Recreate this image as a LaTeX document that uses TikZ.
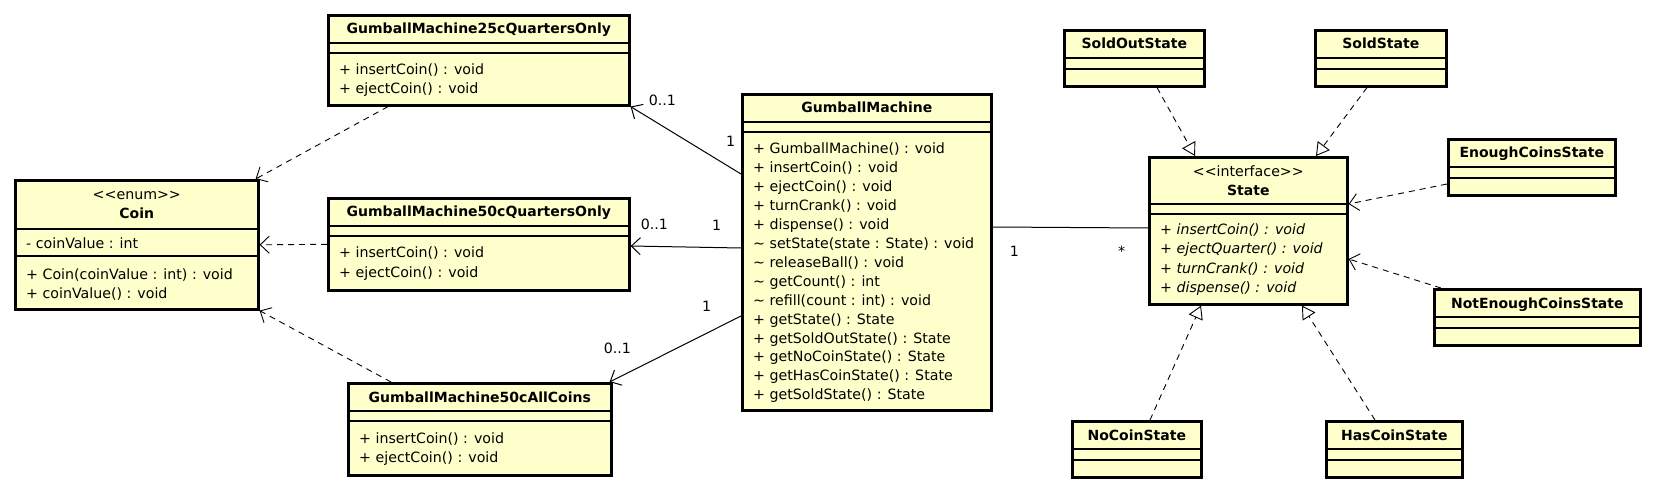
\documentclass[tikz,border=0pt]{standalone}
\usepackage{fontspec}
\setmainfont{DejaVu Sans}
\usepackage{tikz}
\usetikzlibrary{positioning, calc, arrows.meta}

\definecolor{classfill}{RGB}{255,255,204}

\tikzset{
  classbox/.style = {draw, rectangle, line width=2.6pt, fill=classfill,
    inner sep=0pt, anchor=north west},
  sepline/.style = {line width=1.1pt},
  member/.style = {anchor=base west, inner sep=0pt,
    font=\fontsize{14.2}{19}\selectfont},
  classname/.style = {anchor=base, inner sep=0pt,
    font=\bfseries\fontsize{14}{19}\selectfont},
  stereo/.style = {anchor=base, inner sep=0pt,
    font=\fontsize{14.2}{19}\selectfont},
  mult/.style = {anchor=base west, inner sep=0pt,
    font=\fontsize{14.2}{19}\selectfont},
  depends/.style = {line width=0.9pt, dash pattern=on 6pt off 5pt,
    -{Straight Barb[length=9pt, width=17pt, line width=0.9pt]}},
  realizes/.style = {line width=0.9pt, dash pattern=on 6pt off 5pt,
    -{Triangle[open, length=13pt, width=15pt, line width=0.9pt]}},
  navigates/.style = {line width=1pt,
    -{Straight Barb[length=9pt, width=17pt, line width=1pt]}}
}

\begin{document}
\begin{tikzpicture}[x=1pt, y=-1pt]
  \useasboundingbox (0,0) rectangle (1653,486);

  % --- enum on the far left
  \node [classbox, minimum width=243pt, minimum height=129pt] (coin) at (14,179) {};
  \node [stereo] at ($(coin.north)+(0,21)$) {{<}{<}enum{>}{>}};
  \node [classname] at ($(coin.north)+(0,40)$) {Coin};
  \draw [sepline] ($(coin.north west)+(0,50)$) -- ($(coin.north east)+(0,50)$);
  \draw [sepline] ($(coin.north west)+(0,77)$) -- ($(coin.north east)+(0,77)$);
  \node [member] at ($(coin.north west)+(12,70)$) {- coinValue : int};
  \foreach \m [count=\i from 0] in {+ Coin(coinValue : int) : void, + coinValue() : void}
    \node [member] at ($(coin.north west)+(12,100+19*\i)$) {\m};

  % --- the three machine variants
  \node [classbox, minimum width=301pt, minimum height=90pt] (q25) at (327,14) {};
  \node [classname] at ($(q25.north)+(0,20)$) {GumballMachine25cQuartersOnly};
  \draw [sepline] ($(q25.north west)+(0,29)$) -- ($(q25.north east)+(0,29)$);
  \draw [sepline] ($(q25.north west)+(0,39)$) -- ($(q25.north east)+(0,39)$);
  \foreach \m [count=\i from 0] in {+ insertCoin() : void, + ejectCoin() : void}
    \node [member] at ($(q25.north west)+(12,61+19*\i)$) {\m};

  \node [classbox, minimum width=301pt, minimum height=92pt] (q50) at (327,197) {};
  \node [classname] at ($(q50.north)+(0,20)$) {GumballMachine50cQuartersOnly};
  \draw [sepline] ($(q50.north west)+(0,29)$) -- ($(q50.north east)+(0,29)$);
  \draw [sepline] ($(q50.north west)+(0,39)$) -- ($(q50.north east)+(0,39)$);
  \foreach \m [count=\i from 0] in {+ insertCoin() : void, + ejectCoin() : void}
    \node [member] at ($(q50.north west)+(12,61+19*\i)$) {\m};

  \node [classbox, minimum width=263pt, minimum height=92pt] (all50) at (347,382) {};
  \node [classname] at ($(all50.north)+(0,20)$) {GumballMachine50cAllCoins};
  \draw [sepline] ($(all50.north west)+(0,29)$) -- ($(all50.north east)+(0,29)$);
  \draw [sepline] ($(all50.north west)+(0,39)$) -- ($(all50.north east)+(0,39)$);
  \foreach \m [count=\i from 0] in {+ insertCoin() : void, + ejectCoin() : void}
    \node [member] at ($(all50.north west)+(12,61+19*\i)$) {\m};

  % --- context class
  \node [classbox, minimum width=249pt, minimum height=316pt] (gm) at (741,93) {};
  \node [classname] at ($(gm.north)+(0,20)$) {GumballMachine};
  \draw [sepline] ($(gm.north west)+(0,29)$) -- ($(gm.north east)+(0,29)$);
  \draw [sepline] ($(gm.north west)+(0,39)$) -- ($(gm.north east)+(0,39)$);
  \foreach \m [count=\i from 0] in {+ GumballMachine() : void, + insertCoin() : void,
      + ejectCoin() : void, + turnCrank() : void, + dispense() : void,
      \textasciitilde\ setState(state : State) : void, \textasciitilde\ releaseBall() : void,
      \textasciitilde\ getCount() : int, \textasciitilde\ refill(count : int) : void,
      + getState() : State, + getSoldOutState() : State, + getNoCoinState() : State,
      + getHasCoinState() : State, + getSoldState() : State}
    \node [member] at ($(gm.north west)+(12,61+18.9*\i)$) {\m};

  % --- state interface
  \node [classbox, minimum width=198pt, minimum height=147pt] (state) at (1148,156) {};
  \node [stereo] at ($(state.north)+(0,21)$) {{<}{<}interface{>}{>}};
  \node [classname] at ($(state.north)+(0,40)$) {State};
  \draw [sepline] ($(state.north west)+(0,48)$) -- ($(state.north east)+(0,48)$);
  \draw [sepline] ($(state.north west)+(0,58)$) -- ($(state.north east)+(0,58)$);
  \foreach \m [count=\i from 0] in {+ insertCoin() : void, + ejectQuarter() : void,
      + turnCrank() : void, + dispense() : void}
    \node [member, font=\itshape\fontsize{14.2}{19}\selectfont]
      at ($(state.north west)+(12,79+19*\i)$) {\m};

  % --- concrete states
  \node [classbox, minimum width=140pt, minimum height=56pt] (soldout) at (1063,29) {};
  \node [classname] at ($(soldout.north)+(0,20)$) {SoldOutState};
  \node [classbox, minimum width=131pt, minimum height=56pt] (sold) at (1314,29) {};
  \node [classname] at ($(sold.north)+(0,20)$) {SoldState};
  \node [classbox, minimum width=167pt, minimum height=56pt] (enough) at (1447,138) {};
  \node [classname] at ($(enough.north)+(0,20)$) {EnoughCoinsState};
  \node [classbox, minimum width=206pt, minimum height=56pt] (notenough) at (1433,288) {};
  \node [classname] at ($(notenough.north)+(0,20)$) {NotEnoughCoinsState};
  \node [classbox, minimum width=129pt, minimum height=56pt] (nocoin) at (1071,420) {};
  \node [classname] at ($(nocoin.north)+(0,20)$) {NoCoinState};
  \node [classbox, minimum width=136pt, minimum height=56pt] (hascoin) at (1325,420) {};
  \node [classname] at ($(hascoin.north)+(0,20)$) {HasCoinState};
  \foreach \s in {soldout, sold, enough, notenough, nocoin, hascoin} {
    \draw [sepline] ($(\s.north west)+(0,29)$) -- ($(\s.north east)+(0,29)$);
    \draw [sepline] ($(\s.north west)+(0,40)$) -- ($(\s.north east)+(0,40)$);
  }

  % --- dependencies on Coin
  \draw [depends] ($(q25.south west)+(61,0)$) -- ($(coin.north east)+(-4,0)$);
  \draw [depends] (q50.west) -- (coin.east);
  \draw [depends] ($(all50.north west)+(44,0)$) -- (coin.south east);

  % --- associations from the context
  \draw [navigates] ($(gm.north west)+(0,81)$) -- (q25.south east);
  \draw [navigates] ($(gm.north west)+(0,155)$) -- ($(q50.north east)+(0,49)$);
  \draw [navigates] ($(gm.north west)+(0,223)$) -- ($(all50.north east)+(-3,0)$);
  \draw [line width=1pt] ($(gm.north east)+(0,134)$) -- ($(state.north west)+(0,72)$);
  \node [mult] at ($(q25.south east)+(18,-1)$) {0..1};
  \node [mult] at ($(gm.north west)+(-15,54)$) {1};
  \node [mult] at ($(q50.north east)+(10,33)$) {0..1};
  \node [mult] at ($(gm.north west)+(-29,138)$) {1};
  \node [mult] at ($(all50.north east)+(-9,-29)$) {0..1};
  \node [mult] at ($(gm.north west)+(-39,218)$) {1};
  \node [mult] at ($(gm.north east)+(17,164)$) {1};
  \node [mult] at ($(state.north west)+(-30,100)$) {*};

  % --- realizations of State
  \draw [realizes] ($(soldout.south west)+(94,0)$) -- ($(state.north west)+(47,0)$);
  \draw [realizes] ($(sold.south west)+(53,0)$) -- ($(state.north west)+(168,0)$);
  \draw [realizes] ($(nocoin.north west)+(79,0)$) -- ($(state.south west)+(53,0)$);
  \draw [realizes] ($(hascoin.north west)+(50,0)$) -- ($(state.south west)+(154,0)$);
  \draw [depends] ($(enough.north west)+(0,46)$) -- ($(state.north east)+(0,48)$);
  \draw [depends] ($(notenough.north west)+(8,0)$) -- ($(state.north east)+(0,103)$);
\end{tikzpicture}
\end{document}
